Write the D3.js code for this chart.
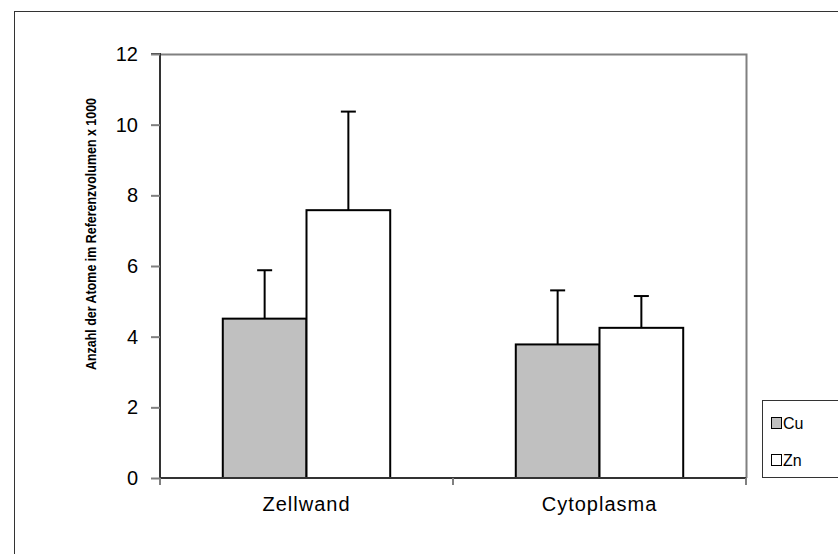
<!DOCTYPE html>
<html>
<head>
<meta charset="utf-8">
<script src="https://cdn.jsdelivr.net/npm/d3@7"></script>
<style>
  html, body { margin: 0; padding: 0; background: #fff; }
  svg { display: block; }
</style>
</head>
<body>
<svg id="chart" width="838" height="554"></svg>
<script>
// Data
const categories = ["Zellwand", "Cytoplasma"];
const seriesNames = ["Cu", "Zn"];
const seriesFill = ["#c0c0c0", "#ffffff"];
const cuValues = [4.51, 3.78];
const znValues = [7.58, 4.25];
const cuErrors = [1.37, 1.53];
const znErrors = [2.79, 0.90];
const yTicks = [0, 2, 4, 6, 8, 10, 12];

const svg = d3.select("#chart");
const plot = { left: 160, top: 54, right: 746, bottom: 478 };
const FONT = "Liberation Sans, Arial, sans-serif";

// Outer chart frame (runs past the right and bottom edges)
svg.append("rect")
  .attr("x", 14.5).attr("y", 11.5)
  .attr("width", 840).attr("height", 560)
  .attr("fill", "#fff").attr("stroke", "#333").attr("stroke-width", 1);

const x0 = d3.scaleBand().domain(categories).range([plot.left, plot.right]);
const x1 = d3.scaleBand().domain(seriesNames).range([0, x0.bandwidth() * 4 / 7]);
const groupOffset = x0.bandwidth() * 1.5 / 7;
const y = d3.scaleLinear().domain([0, 12]).range([plot.bottom, plot.top]);

// Plot-area frame (top and right edges)
svg.append("path")
  .attr("d", `M${plot.left},${plot.top + 0.5}H${plot.right + 0.5}V${plot.bottom}`)
  .attr("fill", "none").attr("stroke", "#808080").attr("stroke-width", 2);

const rows = categories.map((c, i) => [
  { cat: c, s: "Cu", v: cuValues[i], e: cuErrors[i], fill: seriesFill[0] },
  { cat: c, s: "Zn", v: znValues[i], e: znErrors[i], fill: seriesFill[1] }
]).flat();

// Error bars (upper only)
const eb = svg.append("g").attr("stroke", "#000").attr("stroke-width", 2);
rows.forEach(d => {
  const cx = x0(d.cat) + groupOffset + x1(d.s) + x1.bandwidth() / 2;
  eb.append("line").attr("x1", cx).attr("x2", cx).attr("y1", y(d.v)).attr("y2", y(d.v + d.e));
  eb.append("line").attr("x1", cx - 7.5).attr("x2", cx + 7.5).attr("y1", y(d.v + d.e)).attr("y2", y(d.v + d.e));
});

// Bars
svg.append("g").selectAll("rect").data(rows).join("rect")
  .attr("x", d => x0(d.cat) + groupOffset + x1(d.s))
  .attr("y", d => y(d.v))
  .attr("width", x1.bandwidth())
  .attr("height", d => y(0) - y(d.v))
  .attr("fill", d => d.fill)
  .attr("stroke", "#000").attr("stroke-width", 2);

// Y axis
const yAxis = d3.axisLeft(y).tickValues(yTicks).tickSize(9).tickPadding(13).tickFormat(d3.format("d"));
const gy = svg.append("g").attr("transform", `translate(${plot.left},0)`).call(yAxis);
gy.select(".domain").attr("stroke", "#333").attr("stroke-width", 2).attr("d", `M-9,${plot.top}H0V${plot.bottom}`);
gy.selectAll(".tick line").attr("stroke", "#808080").attr("stroke-width", 2);
gy.selectAll(".tick text").attr("font-family", FONT).attr("font-size", 20).attr("fill", "#000");

// X axis
const xAxis = d3.axisBottom(x0).tickSize(0).tickPadding(19);
const gx = svg.append("g").attr("transform", `translate(0,${plot.bottom})`).call(xAxis);
gx.select(".domain").attr("stroke", "#333").attr("stroke-width", 2).attr("d", `M${plot.left},0H${plot.right}`);
gx.selectAll(".tick text").attr("font-family", FONT).attr("font-size", 20)
  .attr("letter-spacing", 1).attr("fill", "#000").attr("dy", "0.71em");
// category separators
const seps = [plot.left, x0(categories[1]), plot.right];
gx.selectAll(".sep").data(seps).join("line").attr("class", "sep")
  .attr("x1", d => d).attr("x2", d => d).attr("y1", 0).attr("y2", 7)
  .attr("stroke", "#808080").attr("stroke-width", 2);

// Y axis title
svg.append("text")
  .attr("transform", `translate(96,234) rotate(-90)`)
  .attr("text-anchor", "middle")
  .attr("font-family", FONT)
  .attr("font-weight", "bold").attr("font-size", 15.5)
  .attr("textLength", 272).attr("lengthAdjust", "spacingAndGlyphs")
  .text("Anzahl der Atome im Referenzvolumen x 1000");

// Legend
const lg = svg.append("g").attr("transform", "translate(762,400)");
lg.append("rect").attr("x", 0.5).attr("y", 0.5).attr("width", 90).attr("height", 77)
  .attr("fill", "#fff").attr("stroke", "#333").attr("stroke-width", 1);
seriesNames.forEach((s, i) => {
  const yy = 17 + i * 37;
  lg.append("rect").attr("x", 9.5).attr("y", yy + 0.5).attr("width", 10).attr("height", 11)
    .attr("fill", seriesFill[i]).attr("stroke", "#000").attr("stroke-width", 1);
  lg.append("text").attr("x", 21).attr("y", yy + 11.5)
    .attr("font-family", FONT).attr("font-size", 16).attr("fill", "#000")
    .text(s);
});
</script>
</body>
</html>
